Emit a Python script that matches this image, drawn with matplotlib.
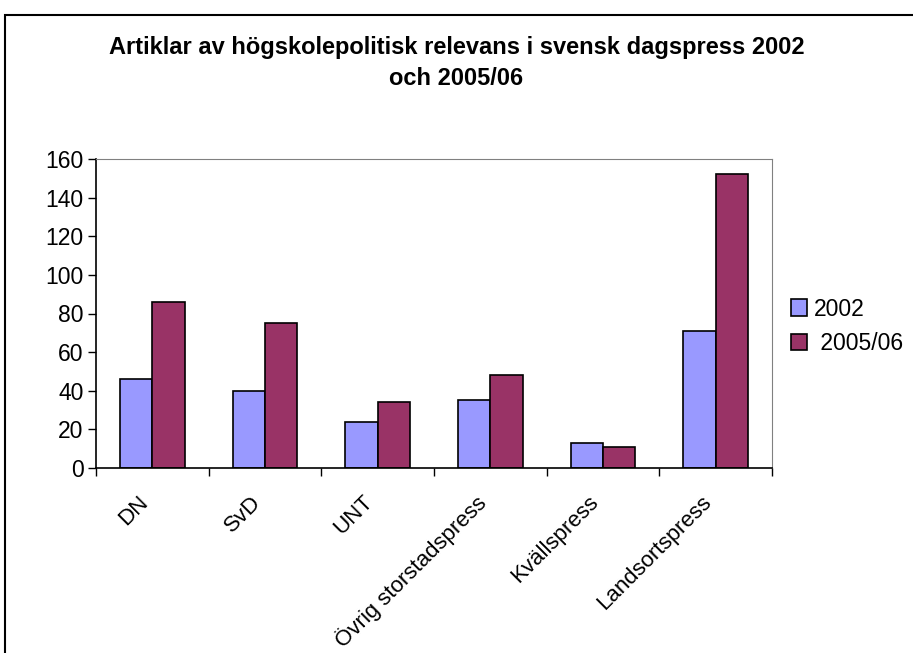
import numpy as np
import matplotlib.pyplot as plt
import matplotlib.transforms as mtransforms
from matplotlib.patches import Rectangle

plt.rcParams['font.family'] = ['Liberation Sans', 'DejaVu Sans']

# data
categories = ['DN', 'SvD', 'UNT', 'Övrig storstadspress', 'Kvällspress', 'Landsortspress']
v2002 = [46, 40, 24, 35, 13, 71]
v2005 = [86, 75, 34, 48, 11, 152]
series_names = ['2002', ' 2005/06']
colors = ['#9999ff', '#993366']

fig = plt.figure(figsize=(9.13, 6.53), dpi=100)
ax = fig.add_axes([96/913, 1-468/653, (772-96)/913, (468-159)/653])

x = np.arange(len(categories))
w = 1/3.5
ax.bar(x - w/2, v2002, w, color=colors[0], edgecolor='black', linewidth=1.2, label=series_names[0])
ax.bar(x + w/2, v2005, w, color=colors[1], edgecolor='black', linewidth=1.2, label=series_names[1])

ax.set_xlim(-0.5, len(categories) - 0.5)
ax.set_ylim(0, 160)
ax.set_yticks(range(0, 161, 20))
ax.tick_params(axis='y', labelsize=16.5, direction='out', length=6, width=1, pad=3)

# category ticks sit on the boundaries, labels at centres
ax.set_xticks(np.arange(-0.5, len(categories)), minor=False)
ax.set_xticklabels([])
ax.tick_params(axis='x', direction='out', length=6, width=1)
ax.set_xticks(x, minor=True)
ax.set_xticklabels(categories, minor=True, rotation=45, ha='right',
                   rotation_mode='anchor', fontsize=16)
ax.tick_params(axis='x', which='minor', length=0, pad=17)
shift = mtransforms.ScaledTranslation(-15/100, 0, fig.dpi_scale_trans)
for lab in ax.get_xticklabels(minor=True):
    lab.set_transform(lab.get_transform() + shift)

for s in ['top', 'right']:
    ax.spines[s].set_color('#808080')
for s in ['left', 'bottom']:
    ax.spines[s].set_color('black')
    ax.spines[s].set_linewidth(1.2)

fig.text(0.5, 1-63/653, 'Artiklar av högskolepolitisk relevans i svensk dagspress 2002\noch 2005/06',
         ha='center', va='center', fontsize=17, fontweight='bold', linespacing=1.45)

leg = fig.legend(loc='upper left', bbox_to_anchor=(770/913, 1-277/653), frameon=False,
                 fontsize=16.5, handlelength=0.72, handleheight=0.72, handletextpad=0.3,
                 labelspacing=0.5)

# outer chart border
fig.patches.append(Rectangle((5/913, -0.05), 1.2, 1-15/653+0.05, transform=fig.transFigure,
                             fill=False, edgecolor='black', linewidth=1.5))

fig.savefig('out.png', dpi=100)
